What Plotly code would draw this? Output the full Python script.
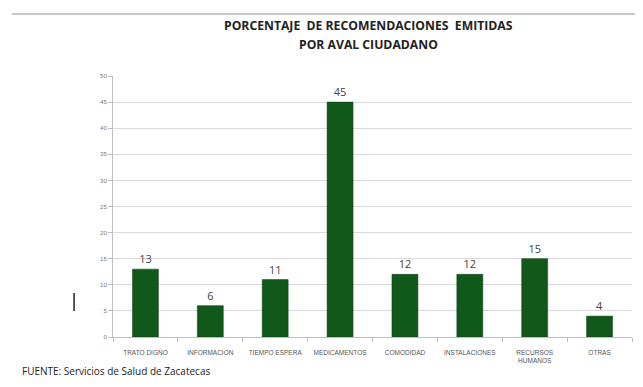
import plotly.graph_objects as go

categories = ["TRATO DIGNO", "INFORMACION", "TIEMPO ESPERA", "MEDICAMENTOS",
              "COMODIDAD", "INSTALACIONES", "RECURSOS<br>HUMANOS", "OTRAS"]
values = [13, 6, 11, 45, 12, 12, 15, 4]
y_ticks = [0, 5, 10, 15, 20, 25, 30, 35, 40, 45, 50]
title_lines = ["PORCENTAJE  DE RECOMENDACIONES  EMITIDAS", "POR AVAL CIUDADANO"]

fig = go.Figure()
fig.add_trace(go.Bar(
    x=categories, y=values,
    marker=dict(color="#10591a", line=dict(color="#0b3d10", width=0.5)),
    width=0.4,
    text=[str(v) for v in values], textposition="outside",
    textfont=dict(family="Open Sans, Arial", size=11, color="#444444"),
    cliponaxis=False,
))

title_font = dict(family="Open Sans, Arial", size=12.2, color="#222222", weight="bold")

fig.update_layout(
    width=635, height=379,
    margin=dict(l=105, r=11, t=68, b=50),
    paper_bgcolor="white", plot_bgcolor="white",
    showlegend=False,
    xaxis=dict(
        tickfont=dict(family="Arial", size=6.5, color="#555555"),
        showline=True, linecolor="#bfbfbf", linewidth=1,
        ticks="outside", tickson="boundaries", ticklen=4, tickcolor="#bfbfbf",
        ticklabelstandoff=9,
        showgrid=False,
    ),
    yaxis=dict(
        range=[0, 50], tickvals=y_ticks, ticktext=[str(t) for t in y_ticks],
        tickfont=dict(family="Arial", size=6, color="#777777"),
        showgrid=True, gridcolor="#d9d9d9", gridwidth=1,
        showline=True, linecolor="#bfbfbf", linewidth=1,
        ticks="outside", ticklen=4, tickcolor="#bfbfbf",
        zeroline=False,
    ),
    shapes=[
        dict(type="line", xref="paper", yref="paper",
             x0=-0.195, x1=1.03, y0=1.2375, y1=1.2375,
             line=dict(color="#c8c8c8", width=2)),
        dict(type="line", xref="paper", yref="paper",
             x0=-0.075, x1=-0.075, y0=0.10, y1=0.169,
             line=dict(color="#222222", width=1.5)),
    ],
    annotations=[
        dict(text=title_lines[0], xref="paper", yref="paper",
             x=0.493, y=1.1916, xanchor="center", yanchor="middle", showarrow=False,
             font=title_font),
        dict(text=title_lines[1], xref="paper", yref="paper",
             x=0.493, y=1.1226, xanchor="center", yanchor="middle", showarrow=False,
             font=title_font),
        dict(text="FUENTE: Servicios de Salud de Zacatecas", xref="paper", yref="paper",
             x=-0.179, y=-0.097, xanchor="left", yanchor="top", showarrow=False,
             font=dict(family="Open Sans, Arial", size=10, color="#222222")),
    ],
)

fig.write_html("out.html")
